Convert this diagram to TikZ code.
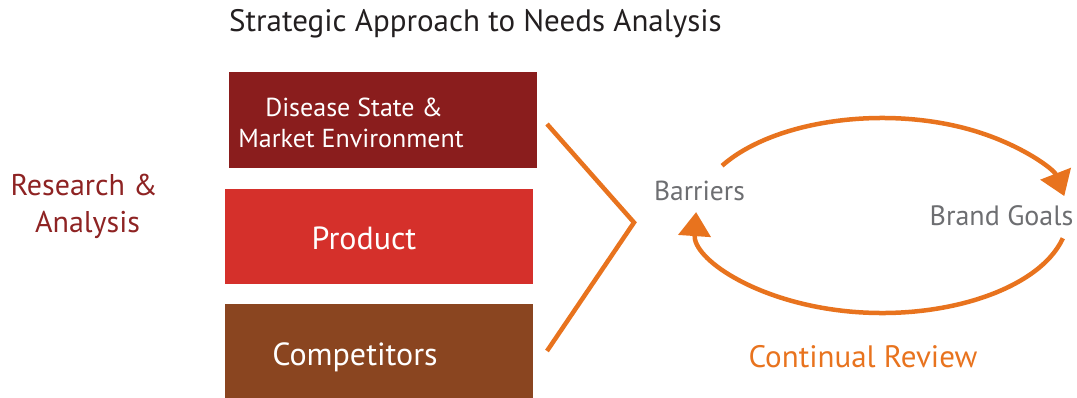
\documentclass[tikz,border=0pt]{standalone}
\usepackage{fontspec}
\setmainfont{PT Sans}
\usetikzlibrary{arrows.meta,calc}
\definecolor{boxA}{HTML}{8A1D1D}
\definecolor{boxB}{HTML}{D5302B}
\definecolor{boxC}{HTML}{8A4520}
\definecolor{orng}{HTML}{E8731E}
\definecolor{grytxt}{HTML}{6D6E71}
\definecolor{redtxt}{HTML}{8E2323}
\definecolor{ttl}{HTML}{231F20}
\tikzset{
  fbox/.style={draw=none, minimum width=308pt, inner sep=0pt, outer sep=0pt},
  txt/.style={inner sep=0pt, outer sep=0pt, anchor=base},
  fs/.style={font=\fontsize{#1}{#1}\selectfont},
  orline/.style={draw=orng, line width=4.5pt},
  cyc/.style={draw=orng, line width=4.5pt, -{Triangle[length=24pt,width=32pt]}}
}
\begin{document}
\begin{tikzpicture}[x=1pt,y=-1pt]
\useasboundingbox (0,0) rectangle (1077,398);
% title
\node[txt, fs=31, text=ttl] (title) at (475.5,32) {Strategic Approach to Needs Analysis};
% left label
\node[txt, fs=30, text=redtxt] (ra1) at (84,196) {Research \&};
\node[txt, fs=30, text=redtxt] (ra2) at (87.5,233) {Analysis};
% boxes
\node[fbox, fill=boxA, minimum height=96pt] (b1) at (383,120) {};
\node[fbox, fill=boxB, minimum height=95pt] (b2) at (379,236.5) {};
\node[fbox, fill=boxC, minimum height=94pt] (b3) at (379,351) {};
\node[txt, fs=26, text=white] (t1a) at (354,117) {Disease State \&};
\node[txt, fs=26, text=white] (t1b) at (351,148) {Market Environment};
\node[txt, fs=32, text=white] (t2) at (364,250) {Product};
\node[txt, fs=32, text=white] (t3) at (355,365) {Competitors};
% chevron
\coordinate (c1) at (547,124);
\coordinate (c2) at (634,222.5);
\coordinate (c3) at (547,351);
\draw[orline, miter limit=10] (c1) -- (c2) -- (c3);
% cycle
\node[txt, fs=27.5, text=grytxt] (barriers) at (699.5,201) {Barriers};
\node[txt, fs=28, text=grytxt] (goals) at (1001.5,226) {Brand Goals};
\node[txt, fs=31, text=orng] (review) at (863,367) {Continual Review};
\coordinate (e0) at (882,215.5);
\coordinate (s1) at ($(e0)+({186*cos(-149.3)},{97.5*sin(-149.3)})$);
\coordinate (s2) at ($(e0)+({186*cos(13.5)},{97.5*sin(13.5)})$);
\draw[cyc] (s1) arc[start angle=-149.3, end angle=-11.5, x radius=186, y radius=97.5];
\draw[cyc] (s2) arc[start angle=13.5, end angle=182, x radius=186, y radius=97.5];
\end{tikzpicture}
\end{document}
